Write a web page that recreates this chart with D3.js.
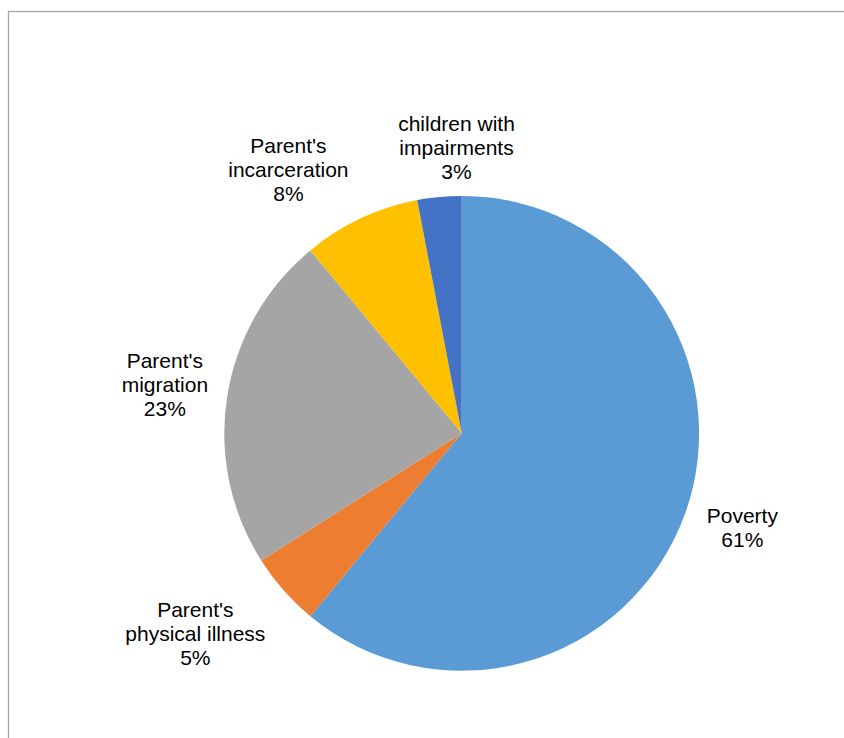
<!DOCTYPE html>
<html>
<head>
<meta charset="utf-8">
<script src="https://cdn.jsdelivr.net/npm/d3@7"></script>
<style>
  html, body { margin: 0; padding: 0; background: #fff; }
  svg { display: block; }
  .slice-label { font-family: "Liberation Sans", Arial, sans-serif; font-size: 21px; fill: #000; }
</style>
</head>
<body>
<svg id="chart" width="844" height="738"></svg>
<script>
// datos del grafico
const categories = ['Poverty', "Parent's physical illness", "Parent's migration", "Parent's incarceration", 'children with impairments'];
const labelLines = [['Poverty'], ["Parent's", 'physical illness'], ["Parent's", 'migration'], ["Parent's", 'incarceration'], ['children with', 'impairments']];
const values = [61, 5, 23, 8, 3];
const colors = ['#5B9BD5', '#ED7D31', '#A5A5A5', '#FFC000', '#4472C4'];

const svg = d3.select('#chart');
const width = +svg.attr('width');
const height = +svg.attr('height');

// marco del area del grafico
svg.append('rect')
  .attr('x', 8.5)
  .attr('y', 11.5)
  .attr('width', width + 10)
  .attr('height', height + 10)
  .attr('fill', 'none')
  .attr('stroke', '#a6a6a6')
  .attr('stroke-width', 1.3);

const cx = 461.7, cy = 433.3, radius = 237.4;

const pie = d3.pie().sort(null).value(d => d);
const arcs = pie(values);
const arc = d3.arc().innerRadius(0).outerRadius(radius);

const g = svg.append('g').attr('transform', `translate(${cx},${cy})`);

g.selectAll('path')
  .data(arcs)
  .enter()
  .append('path')
  .attr('d', arc)
  .attr('fill', (d, i) => colors[i]);

// etiquetas fuera del pastel, estilo "best fit"
const total = d3.sum(values);
const LINE_H = 24;
const GAP = 25;
const nudge = [[0, -3], [-17, 3], [5, -2], [-36, 6], [25, 11]];

arcs.forEach((d, i) => {
  const lines = labelLines[i].concat([Math.round(d.value / total * 100) + '%']);
  const a = (d.startAngle + d.endAngle) / 2;
  const s = Math.sin(a), c = -Math.cos(a);
  const text = g.append('text').attr('class', 'slice-label').attr('text-anchor', 'middle');
  lines.forEach((t, j) => text.append('tspan').attr('x', 0).attr('y', (j - (lines.length - 1) / 2) * LINE_H + 7.5).text(t));
  const bb = text.node().getBBox();
  const x = s * (radius + GAP) + s * bb.width / 2 + nudge[i][0];
  const y = c * (radius + GAP) + c * bb.height / 2 + nudge[i][1];
  text.attr('transform', `translate(${x},${y})`);
});
</script>
</body>
</html>
